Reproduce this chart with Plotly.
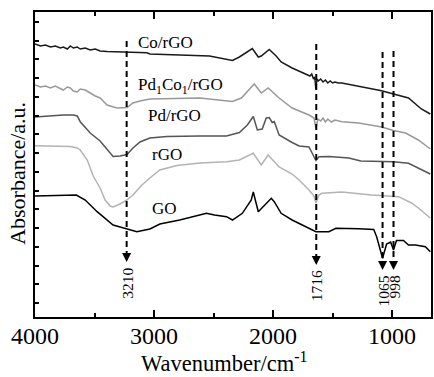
import plotly.graph_objects as go

# ---------------- data ----------------
co_wn = [4000, 3954, 3912, 3870, 3829, 3787, 3762, 3728, 3703, 3678, 3645, 3620, 3578, 3536, 3494, 3453,
         3394, 3118, 3060, 3035, 2534, 2341, 2283, 2174, 2124, 2099, 2032, 1974, 1932, 1840, 1698, 1690,
         1675, 1660, 1650, 1640, 1631, 1620, 1600, 1580, 1560, 1540, 1520, 1500, 1480, 1450, 1422, 1280,
         1088, 988, 862, 754, 679]
co_ab = [2.73, 2.71, 2.72, 2.70, 2.71, 2.69, 2.70, 2.68, 2.71, 2.69, 2.70, 2.68, 2.69, 2.67, 2.68, 2.66,
         2.655, 2.65, 2.643, 2.63, 2.61, 2.565, 2.60, 2.685, 2.60, 2.61, 2.675, 2.61, 2.55, 2.49, 2.42, 2.41,
         2.43, 2.38, 2.40, 2.28, 2.38, 2.36, 2.38, 2.35, 2.37, 2.34, 2.36, 2.34, 2.35, 2.34, 2.34, 2.31,
         2.263, 2.23, 2.19, 2.08, 2.03]

pdco_wn = [4000, 3954, 3912, 3870, 3829, 3787, 3762, 3728, 3703, 3678, 3645, 3620, 3578, 3536, 3494, 3453,
           3394, 3311, 3227, 3177, 3118, 3035, 2893, 2616, 2341, 2266, 2158, 2099, 2041, 1949, 1840, 1698,
           1656, 1640, 1623, 1600, 1580, 1560, 1540, 1510, 1480, 1422, 1280, 1088, 988, 887, 779, 679]
pdco_ab = [2.32, 2.30, 2.31, 2.29, 2.31, 2.28, 2.27, 2.30, 2.29, 2.26, 2.25, 2.28, 2.27, 2.24, 2.21, 2.19,
           2.12, 2.09, 2.095, 2.14, 2.16, 2.18, 2.185, 2.19, 2.155, 2.19, 2.33, 2.24, 2.29, 2.19, 2.09, 2.02,
           1.99, 1.89, 1.98, 1.96, 1.99, 1.95, 1.98, 1.95, 1.97, 1.953, 1.94, 1.90, 1.865, 1.84, 1.77, 1.68]

pd_wn = [4000, 3870, 3762, 3678, 3645, 3620, 3536, 3453, 3394, 3344, 3286, 3227, 3177, 3118, 3035, 2893,
         2616, 2391, 2283, 2216, 2166, 2132, 2091, 2057, 2032, 2007, 1990, 1949, 1840, 1781, 1698, 1673,
         1640, 1614, 1531, 1363, 1263, 988, 862, 679]
pd_ab = [2.00, 2.015, 2.02, 2.02, 2.01, 1.953, 1.84, 1.76, 1.67, 1.605, 1.61, 1.625, 1.69, 1.75, 1.79, 1.805,
         1.81, 1.81, 1.845, 1.92, 2.005, 1.87, 1.88, 1.99, 1.995, 1.945, 1.955, 1.82, 1.745, 1.71, 1.70, 1.64,
         1.565, 1.603, 1.605, 1.59, 1.56, 1.553, 1.537, 1.43]

rgo_wn = [4000, 3703, 3645, 3620, 3561, 3511, 3453, 3411, 3369, 3344, 3286, 3227, 3177, 3102, 3035, 2951,
          2809, 2616, 2391, 2283, 2166, 2099, 2041, 1949, 1840, 1781, 1698, 1656, 1640, 1614, 1589, 1422,
          1171, 946, 837, 779, 679]
rgo_ab = [1.713, 1.705, 1.69, 1.67, 1.57, 1.41, 1.29, 1.17, 1.11, 1.10, 1.13, 1.17, 1.22, 1.32, 1.39, 1.47,
          1.515, 1.54, 1.553, 1.57, 1.637, 1.52, 1.62, 1.50, 1.43, 1.37, 1.27, 1.21, 1.14, 1.22, 1.237, 1.25,
          1.22, 1.203, 1.14, 1.09, 0.99]

go_wn = [4000, 3653, 3578, 3478, 3344, 3202, 3144, 3035, 2951, 2784, 2559, 2492, 2391, 2341, 2258, 2183,
         2166, 2124, 2057, 2015, 1990, 1932, 1840, 1698, 1640, 1531, 1472, 1280, 1154, 1129, 1080, 1046,
         1012, 988, 963, 904, 862, 804, 720, 679]
go_ab = [1.21, 1.22, 1.17, 1.053, 0.92, 0.87, 0.853, 0.88, 0.93, 0.97, 1.037, 1.02, 1.003, 0.97, 1.037, 1.17,
         1.25, 1.053, 1.137, 1.187, 1.153, 1.037, 0.97, 0.887, 0.853, 0.853, 0.887, 0.883, 0.875, 0.80, 0.587, 0.73,
         0.75, 0.67, 0.765, 0.765, 0.72, 0.72, 0.703, 0.653]

series_names = ["Co/rGO", "Pd<sub>1</sub>Co<sub>1</sub>/rGO", "Pd/rGO", "rGO", "GO"]
series_wn = [co_wn, pdco_wn, pd_wn, rgo_wn, go_wn]
series_ab = [co_ab, pdco_ab, pd_ab, rgo_ab, go_ab]
series_colors = ["#1a1a1a", "#999999", "#555555", "#b3b3b3", "#000000"]
label_wn = [2901, 2780, 2826, 2893, 2910]
label_ab = [2.75, 2.315, 2.015, 1.63, 1.09]

peak_labels = ["3210", "1716", "1065", "998"]
peak_wn = [3230, 1637, 1080, 988]
arrow_top = [2.76, 2.73, 2.65, 2.66]
arrow_tip = [0.55, 0.52, 0.47, 0.47]

x_ticks = [4000, 3000, 2000, 1000]
x_minor_ticks = [3500, 2500, 1500]
x_title = "Wavenumber/cm<sup>-1</sup>"
y_title = "Absorbance/a.u."

FONT = "Liberation Serif, Times New Roman, Times, serif"

fig = go.Figure()
for name, wn, ab, col in zip(series_names, series_wn, series_ab, series_colors):
    fig.add_trace(go.Scatter(x=wn, y=ab, mode="lines", name=name,
                             line=dict(color=col, width=1.5), showlegend=False))

for lab, wn, ab in zip(series_names, label_wn, label_ab):
    fig.add_annotation(x=wn, y=ab, text=lab, showarrow=False,
                       font=dict(family=FONT, size=17, color="black"),
                       xanchor="center", yanchor="middle")

for lab, wn, top, tip in zip(peak_labels, peak_wn, arrow_top, arrow_tip):
    fig.add_trace(go.Scatter(x=[wn, wn], y=[top, tip + 0.06], mode="lines",
                             line=dict(color="black", width=2, dash="6px,4px"),
                             showlegend=False, hoverinfo="skip"))
    fig.add_trace(go.Scatter(x=[wn], y=[tip], mode="markers",
                             marker=dict(symbol="arrow-down", size=9, color="black",
                                         line=dict(width=0)),
                             showlegend=False, hoverinfo="skip"))
    fig.add_annotation(x=wn, y=tip - 0.05 - len(lab) * 0.08 / 2, text=lab,
                       showarrow=False, textangle=-90,
                       font=dict(family=FONT, size=15.5, color="black"),
                       xanchor="center", yanchor="middle")

# tick labels and axis titles as text placed relative to the axes
for v in x_ticks:
    fig.add_annotation(x=v, xref="x", y=-0.062, yref="paper", text=str(v), showarrow=False,
                       font=dict(family=FONT, size=24, color="black"),
                       xanchor="center", yanchor="middle")
fig.add_annotation(x=0.477, xref="paper", y=-0.148, yref="paper", text=x_title, showarrow=False,
                   font=dict(family=FONT, size=22.5, color="black"),
                   xanchor="center", yanchor="middle")
fig.add_annotation(x=-0.045, xref="paper", y=0.47, yref="paper", text=y_title, showarrow=False,
                   textangle=-90, font=dict(family=FONT, size=22, color="black"),
                   xanchor="center", yanchor="middle")

fig.update_layout(
    width=434, height=377,
    margin=dict(l=35, r=1, t=12, b=60),
    paper_bgcolor="white", plot_bgcolor="white",
    font=dict(family=FONT, color="black"),
)
fig.update_xaxes(
    range=[4000, 673], showgrid=False, zeroline=False,
    showline=True, linecolor="black", linewidth=1.5, mirror="ticks",
    ticks="inside", ticklen=7, tickwidth=1.5, tickcolor="black",
    tickvals=x_ticks, showticklabels=False,
    minor=dict(tickvals=x_minor_ticks, ticks="inside", ticklen=4, tickwidth=1.5, tickcolor="black"),
)
fig.update_yaxes(
    range=[0, 3.05], showgrid=False, zeroline=False,
    showline=True, linecolor="black", linewidth=1.5, mirror=True,
    ticks="inside", ticklen=4, tickwidth=1.5, tickcolor="black",
    tick0=0.14, dtick=0.1875, showticklabels=False,
)

fig.write_html("out.html")
